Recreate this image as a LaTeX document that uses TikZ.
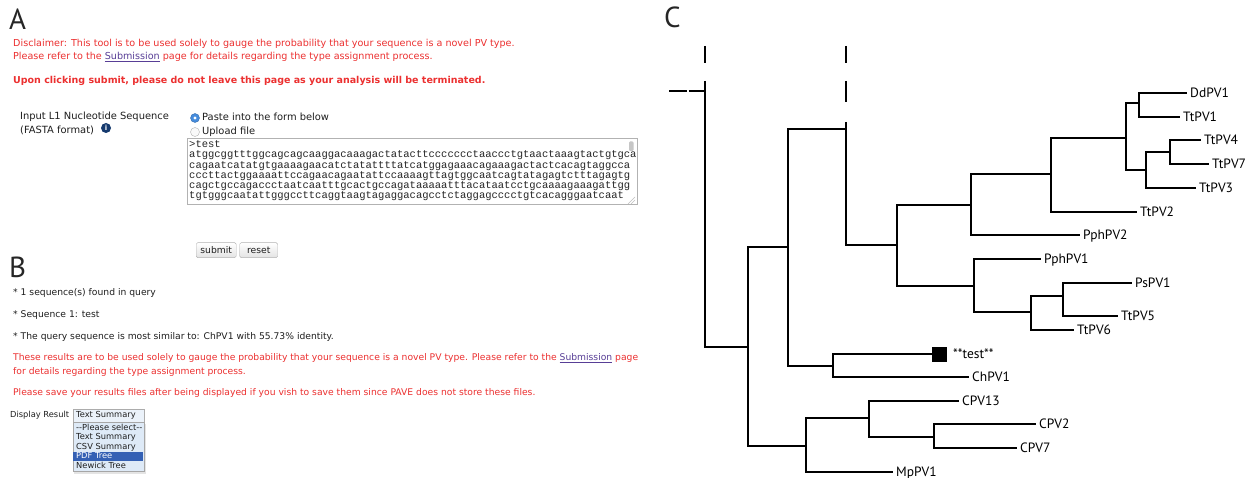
\documentclass[tikz,border=0pt]{standalone}
\usepackage{fontspec}
\setmainfont{DejaVu Sans}
\newfontfamily\treefont{PT Sans}
\newfontfamily\seqfont{Liberation Mono}
\usetikzlibrary{calc}
\definecolor{warnred}{RGB}{236,48,48}
\definecolor{linkpurple}{RGB}{88,62,150}
\definecolor{txtdark}{RGB}{30,30,30}
\definecolor{listbg}{RGB}{222,234,247}
\definecolor{hilite}{RGB}{52,96,180}
\definecolor{infoblue}{RGB}{22,58,110}
\definecolor{radioblue}{RGB}{70,140,220}
\tikzset{
  panel/.style={anchor=base west, inner sep=0pt, font=\treefont\fontsize{29}{29}\selectfont, text=black!85},
  txta/.style={anchor=west, inner sep=0pt, text height=7pt, text depth=2pt, font=\fontsize{9.6}{11}\selectfont},
  txtb/.style={anchor=west, inner sep=0pt, text height=7pt, text depth=2pt, font=\fontsize{9.2}{11}\selectfont},
  redtxt/.style={txta, text=warnred},
  redtxtb/.style={txtb, text=warnred},
  darktxt/.style={txtb, text=txtdark},
  uitxt/.style={anchor=west, inner sep=0pt, text height=7pt, text depth=2pt, font=\fontsize{9.9}{11}\selectfont, text=txtdark},
  btn/.style={draw=gray!60, rounded corners=1.5pt, top color=white, bottom color=gray!22, font=\fontsize{9.2}{10}\selectfont, text=txtdark, inner sep=0pt},
  br/.style={line width=2.5pt, line join=miter},
  leaf/.style={anchor=west, inner xsep=3pt, inner ysep=0pt, text height=9pt, text depth=0pt, font=\treefont\fontsize{13.5}{14}\selectfont},
  listtxt/.style={anchor=west, inner sep=0pt, text height=6pt, text depth=1.7pt, font=\fontsize{8.3}{9}\selectfont, text=txtdark},
}
\newcommand{\lnk}[1]{{\color{linkpurple}\underline{#1}}}
\begin{document}
\begin{tikzpicture}[x=1pt,y=-1pt]
\useasboundingbox (0,0) rectangle (1255,478);
\fill[white] (0,0) rectangle (1255,478);

% ---------------- Panel A ----------------
\node[panel] (labA) at (9,30) {A};
\node[redtxt] (disc1) at (13,44) {Disclaimer: This tool is to be used solely to gauge the probability that your sequence is a novel PV type.};
\node[redtxt] (disc2) at (13,57) {Please refer to the \lnk{Submission} page for details regarding the type assignment process.};
\node[redtxt, font=\bfseries\fontsize{9.5}{11}\selectfont] (warn) at (13,81) {Upon clicking submit, please do not leave this page as your analysis will be terminated.};

\node[uitxt] (inp1) at (20,117) {Input L1 Nucleotide Sequence};
\node[uitxt] (inp2) at (20,131) {(FASTA format)};
\node[circle, fill=infoblue, minimum size=10pt, inner sep=0pt, text=white, font=\bfseries\fontsize{7}{7}\selectfont] (info) at (106,128) {i};

\node[circle, draw=radioblue!80!black, fill=radioblue, minimum size=9pt, inner sep=0pt] (rad1) at (195,118) {};
\fill[white] (rad1.center) circle (1.6pt);
\node[uitxt] (paste) at (202,118) {Paste into the form below};
\node[circle, draw=gray!60, fill=gray!5, minimum size=9pt, inner sep=0pt] (rad2) at (195,132) {};
\node[uitxt] (upload) at (202,132) {Upload file};

\node[draw=gray!60, line width=0.8pt, minimum width=450pt, minimum height=66pt, anchor=north west, inner sep=0pt] (tarea) at (187,138.5) {};
\fill[gray!45, rounded corners=1.2pt] (629,141.5) rectangle (633.5,151);
\draw[gray!50, line width=0.5pt] (628,204) -- (635,197) (631,204) -- (635,200);
\node[anchor=north west, inner sep=0pt, align=left, font=\seqfont\fontsize{10.5}{10.2}\selectfont, text=black!85] (seq) at (189,140.5) {%
>test\\
atggcggtttggcagcagcaaggacaaagactatacttccccccctaaccctgtaactaaagtactgtgca\\
cagaatcatatgtgaaaagaacatctatattttatcatggagaaacagaaagactactcacagtaggcca\\
cccttactggaaaattccagaacagaatattccaaaagttagtggcaatcagtatagagtctttagagtg\\
cagctgccagaccctaatcaatttgcactgccagataaaaatttacataatcctgcaaaagaaagattgg\\
tgtgggcaatattgggccttcaggtaagtagaggacagcctctaggagcccctgtcacagggaatcaat};

\node[btn, minimum width=40pt, minimum height=15pt, anchor=north west] (submit) at (196,242.5) {submit};
\node[btn, minimum width=38pt, minimum height=15pt, anchor=north west] (reset) at (239.5,242.5) {reset};

% ---------------- Panel B ----------------
\node[panel] (labB) at (9,278) {B};
\node[darktxt] (b1) at (13,293) {* 1 sequence(s) found in query};
\node[darktxt] (b2) at (13,315) {* Sequence 1: test};
\node[darktxt] (b3) at (13,337) {* The query sequence is most similar to: ChPV1 with 55.73\% identity.};
\node[redtxtb] (b4) at (13,358) {These results are to be used solely to gauge the probability that your sequence is a novel PV type. Please refer to the \lnk{Submission} page};
\node[redtxtb] (b5) at (13,371.5) {for details regarding the type assignment process.};
\node[redtxtb] (b6) at (13,392.5) {Please save your results files after being displayed if you vish to save them since PAVE does not store these files.};

\node[listtxt] (disp) at (10,415) {Display Result};
\node[draw=gray!65, fill=listbg!60, minimum width=71pt, minimum height=12.5pt, anchor=north west, inner sep=0pt] (sel) at (72.5,409) {};
\node[listtxt] (selt) at (76,415.5) {Text Summary};
% dropdown list with shadow
\fill[gray!35, opacity=0.6] (74,424) rectangle (146,473.5);
\node[draw=gray!70, fill=listbg, minimum width=71pt, minimum height=49pt, anchor=north west, inner sep=0pt] (drop) at (72.5,422) {};
\fill[hilite] (73,451.8) rectangle (143,461.2);
\node[listtxt] (o1) at (76,428.5) {{-}{-}Please select{-}{-}};
\node[listtxt] (o2) at (76,437.8) {Text Summary};
\node[listtxt] (o3) at (76,447.2) {CSV Summary};
\node[listtxt, text=white] (o4) at (76,456.5) {PDF Tree};
\node[listtxt] (o5) at (76,466) {Newick Tree};

% ---------------- Panel C ----------------
\node[panel] (labC) at (664,28) {C};

% internal nodes
\coordinate (rootL) at (669,91);
\coordinate (top0) at (705,46);
\coordinate (N0) at (705,91);
\coordinate (N1) at (748,347);
\coordinate (N2) at (788,247);
\coordinate (top3) at (846,46);
\coordinate (N3) at (846,129);
\coordinate (N4) at (897,245);
\coordinate (N5) at (971,205);
\coordinate (N6) at (1051,174);
\coordinate (N7) at (1126,138);
\coordinate (N8) at (1139,103);
\coordinate (N9) at (1146,170);
\coordinate (N10) at (1170,152);
\coordinate (NP) at (974,286);
\coordinate (N11) at (1031,312);
\coordinate (N12) at (1063,296);
\coordinate (Nt) at (833,366);
\coordinate (NC) at (806,446);
\coordinate (N13) at (869,418);
\coordinate (N14) at (934,437);

% leaves
\node[leaf] (DdPV1) at (1187,93) {DdPV1};
\node[leaf] (TtPV1) at (1180,117) {TtPV1};
\node[leaf] (TtPV4) at (1201,140) {TtPV4};
\node[leaf] (TtPV7) at (1209,164) {TtPV7};
\node[leaf] (TtPV3) at (1196,188) {TtPV3};
\node[leaf] (TtPV2) at (1137,212) {TtPV2};
\node[leaf] (PphPV2) at (1080,235) {PphPV2};
\node[leaf] (PphPV1) at (1041,259) {PphPV1};
\node[leaf] (PsPV1) at (1132,283) {PsPV1};
\node[leaf] (TtPV5) at (1118,316) {TtPV5};
\node[leaf] (TtPV6) at (1074,330) {TtPV6};
\node[fill=black, minimum size=15pt, inner sep=0pt] (testsq) at (939.5,354) {};
\node[leaf, inner xsep=0pt] (testlab) at (953,354) {**test**};
\node[leaf] (ChPV1) at (969,377) {ChPV1};
\node[leaf] (CPV13) at (959,401) {CPV13};
\node[leaf] (CPV2) at (1036,424) {CPV2};
\node[leaf] (CPV7) at (1017,448) {CPV7};
\node[leaf] (MpPV1) at (893,472) {MpPV1};

% dashed artefacts
\draw[br, dash pattern=on 17.5pt off 2pt on 30pt] (rootL) -- (N0);
\draw[br, dash pattern=on 17pt off 18pt on 30pt] (top0) -- (N0);
\draw[br, dash pattern=on 17pt off 18pt on 21pt off 20pt on 30pt] (top3) -- (N3);

% branches
\draw[br] (N0) |- (N1);
\draw[br] (N1) |- (N2);
\draw[br] (N1) |- (NC);
\draw[br] (N2) |- (N3);
\draw[br] (N2) |- (Nt);
\draw[br] (N3) |- (N4);
\draw[br] (N4) |- (N5);
\draw[br] (N4) |- (NP);
\draw[br] (N5) |- (N6);
\draw[br] (N5) |- (PphPV2.west);
\draw[br] (N6) |- (N7);
\draw[br] (N6) |- (TtPV2.west);
\draw[br] (N7) |- (N8);
\draw[br] (N7) |- (N9);
\draw[br] (N8) |- (DdPV1.west);
\draw[br] (N8) |- (TtPV1.west);
\draw[br] (N9) |- (N10);
\draw[br] (N9) |- (TtPV3.west);
\draw[br] (N10) |- (TtPV4.west);
\draw[br] (N10) |- (TtPV7.west);
\draw[br] (NP) |- (PphPV1.west);
\draw[br] (NP) |- (N11);
\draw[br] (N11) |- (N12);
\draw[br] (N11) |- (TtPV6.west);
\draw[br] (N12) |- (PsPV1.west);
\draw[br] (N12) |- (TtPV5.west);
\draw[br] (Nt) |- (testsq.west);
\draw[br] (Nt) |- (ChPV1.west);
\draw[br] (NC) |- (N13);
\draw[br] (NC) |- (MpPV1.west);
\draw[br] (N13) |- (CPV13.west);
\draw[br] (N13) |- (N14);
\draw[br] (N14) |- (CPV2.west);
\draw[br] (N14) |- (CPV7.west);
\end{tikzpicture}
\end{document}
